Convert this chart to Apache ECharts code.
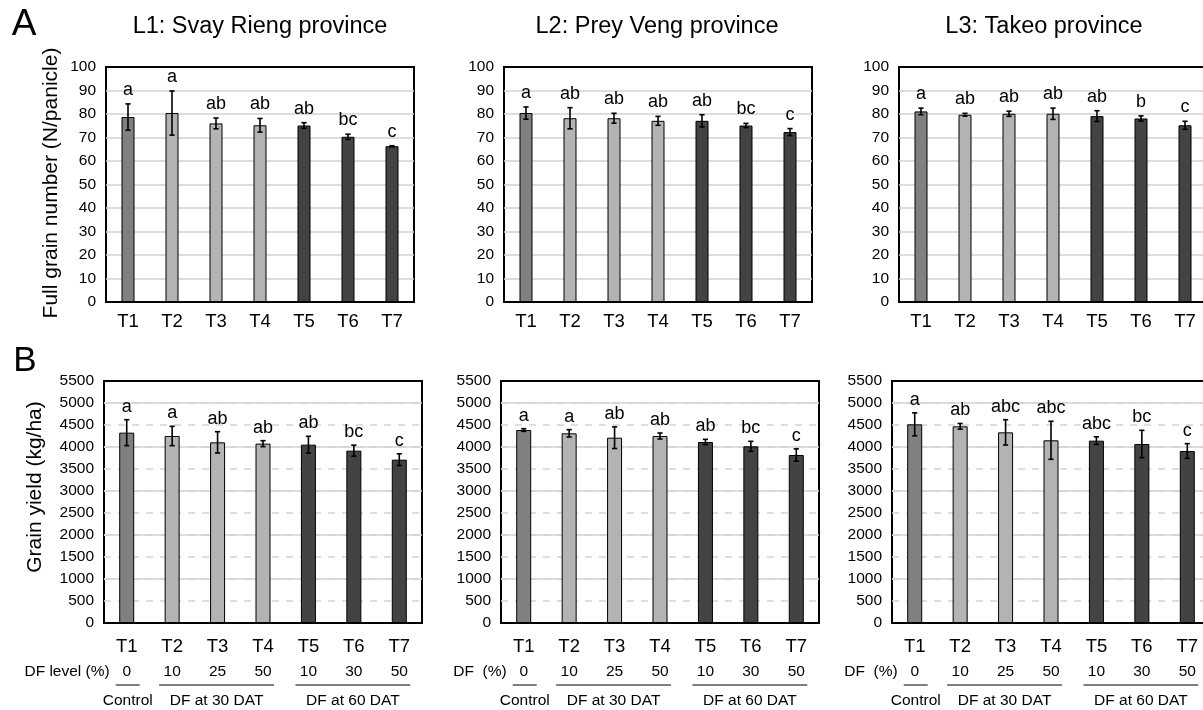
<!DOCTYPE html>
<html>
<head>
<meta charset="utf-8">
<script src="https://cdn.jsdelivr.net/npm/echarts@6/dist/echarts.min.js"></script>
<style>
  html, body { margin: 0; padding: 0; background: #fff; overflow: hidden; width: 1203px; height: 710px; }
  /* the canvas runs a little past the right edge so the last column is cut off there */
  #chart { width: 1216px; height: 710px; }
</style>
</head>
<body>
<div id="chart"></div>
<script>
// Treatments and their defoliation levels
const treatments = ['T1', 'T2', 'T3', 'T4', 'T5', 'T6', 'T7'];
const dfLevels = ['0', '10', '25', '50', '10', '30', '50'];
const groupNames = ['Control', 'DF at 30 DAT', 'DF at 60 DAT'];
const groupSpans = [[0, 0], [1, 3], [4, 6]];
const provinceTitles = ['L1: Svay Rieng province', 'L2: Prey Veng province', 'L3: Takeo province'];
const dfRowTitles = ['DF level (%)', 'DF  (%)', 'DF  (%)'];

// Full grain number (N/panicle): mean, SE, letters
const grainL1 = [78.7, 80.4, 76.0, 75.2, 75.1, 70.3, 66.3];
const grainErrL1 = [5.6, 9.4, 2.3, 2.9, 1.2, 1.1, 0.2];
const grainLetL1 = ['a', 'a', 'ab', 'ab', 'ab', 'bc', 'c'];
const grainL2 = [80.4, 78.2, 78.2, 77.1, 77.1, 75.1, 72.3];
const grainErrL2 = [2.6, 4.5, 2.1, 1.9, 2.6, 0.9, 1.5];
const grainLetL2 = ['a', 'ab', 'ab', 'ab', 'ab', 'bc', 'c'];
const grainL3 = [81.1, 79.7, 80.1, 80.1, 79.1, 78.1, 75.2];
const grainErrL3 = [1.4, 0.6, 1.1, 2.4, 2.3, 1.1, 1.7];
const grainLetL3 = ['a', 'ab', 'ab', 'ab', 'ab', 'b', 'c'];

// Grain yield (kg/ha): mean, SE, letters
const yieldL1 = [4326, 4250, 4106, 4076, 4053, 3917, 3712];
const yieldErrL1 = [295, 220, 242, 68, 190, 125, 133];
const yieldLetL1 = ['a', 'a', 'ab', 'ab', 'ab', 'bc', 'c'];
const yieldL2 = [4386, 4311, 4212, 4250, 4114, 4015, 3818];
const yieldErrL2 = [30, 83, 246, 68, 60, 114, 140];
const yieldLetL2 = ['a', 'a', 'ab', 'ab', 'ab', 'bc', 'c'];
const yieldL3 = [4515, 4470, 4333, 4152, 4144, 4068, 3909];
const yieldErrL3 = [261, 64, 288, 432, 87, 311, 167];
const yieldLetL3 = ['a', 'ab', 'abc', 'abc', 'abc', 'bc', 'c'];

const FONT = '"Liberation Sans", Arial, Helvetica, sans-serif';
const barColors = ['#808080', '#b3b3b3', '#b3b3b3', '#b3b3b3', '#434343', '#434343', '#434343'];

const panels = [
  { mean: grainL1, err: grainErrL1, letters: grainLetL1, row: 0 },
  { mean: grainL2, err: grainErrL2, letters: grainLetL2, row: 0 },
  { mean: grainL3, err: grainErrL3, letters: grainLetL3, row: 0 },
  { mean: yieldL1, err: yieldErrL1, letters: yieldLetL1, row: 1 },
  { mean: yieldL2, err: yieldErrL2, letters: yieldLetL2, row: 1 },
  { mean: yieldL3, err: yieldErrL3, letters: yieldLetL3, row: 1 }
];

// Plot-area rectangles (px)
const gridBoxes = [
  { left: 106, top: 67, width: 308, height: 235 },
  { left: 504, top: 67, width: 308, height: 235 },
  { left: 899, top: 67, width: 308, height: 235 },
  { left: 104, top: 381, width: 318, height: 242 },
  { left: 501, top: 381, width: 318, height: 242 },
  { left: 892, top: 381, width: 318, height: 242 }
];

const grid = [], xAxis = [], yAxis = [], series = [];

panels.forEach((p, k) => {
  const b = gridBoxes[k];
  grid.push({
    left: b.left, top: b.top, width: b.width, height: b.height,
    show: true, borderColor: '#000', borderWidth: 2, backgroundColor: '#fff',
    containLabel: false
  });
  const bottomRow = p.row === 1;
  xAxis.push({
    type: 'category', gridIndex: k, data: treatments,
    axisLine: { show: true, lineStyle: { color: '#000', width: 2 } },
    axisTick: { show: false },
    splitLine: { show: false },
    axisLabel: bottomRow ? {
      margin: 10.5,
      formatter: (v, i) => '{t|' + v + '}\n{d|' + dfLevels[i] + '}',
      rich: {
        t: { fontFamily: FONT, fontSize: 18.5, lineHeight: 26, color: '#000' },
        d: { fontFamily: FONT, fontSize: 15.5, lineHeight: 24, color: '#000' }
      }
    } : {
      margin: 9,
      fontFamily: FONT, fontSize: 18.5, lineHeight: 22, color: '#000'
    }
  });

  const yLabel = { fontFamily: FONT, fontSize: 15.5, color: '#000', margin: 10,
    formatter: v => String(v) };
  if (!bottomRow) {
    yAxis.push({
      type: 'value', gridIndex: k, min: 0, max: 100, interval: 10,
      axisLine: { show: false }, axisTick: { show: false },
      axisLabel: yLabel,
      splitLine: { show: true, showMinLine: false, showMaxLine: false,
        lineStyle: { color: '#d2d2d2', width: 1.6 } }
    });
  } else {
    // labelled axis with dashed half-step lines
    yAxis.push({
      type: 'value', gridIndex: k, min: 0, max: 5500, interval: 500,
      axisLine: { show: false }, axisTick: { show: false },
      axisLabel: yLabel,
      splitLine: { show: true, showMinLine: false, showMaxLine: false,
        lineStyle: { color: '#d6d6d6', width: 1.6, type: [7, 7] } }
    });
  }
  const yIdx = yAxis.length - 1;
  if (bottomRow) {
    // companion axis for the solid 1000-step lines
    yAxis.push({
      type: 'value', gridIndex: k, min: 0, max: 5500, interval: 1000, position: 'left',
      axisLine: { show: false }, axisTick: { show: false }, axisLabel: { show: false },
      splitLine: { show: true, showMinLine: false, showMaxLine: false,
        lineStyle: { color: '#d2d2d2', width: 1.6 } }
    });
  }

  series.push({
    type: 'bar', xAxisIndex: k, yAxisIndex: yIdx,
    barWidth: bottomRow ? 15 : 13,
    data: p.mean.map((v, i) => ({
      value: v,
      itemStyle: { color: barColors[i], borderColor: '#000', borderWidth: 1 }
    })),
    silent: true, animation: false, z: 2
  });

  const letters = p.letters;
  const gap = bottomRow ? 4 : 5;
  series.push({
    type: 'custom', xAxisIndex: k, yAxisIndex: yIdx,
    data: p.mean.map((v, i) => [i, v, p.err[i]]),
    silent: true, animation: false, z: 5,
    renderItem: (params, api) => {
      const i = api.value(0), m = api.value(1), e = api.value(2);
      const hi = api.coord([i, m + e]);
      const lo = api.coord([i, m - e]);
      const hw = 2.6;
      const ls = { stroke: '#000', lineWidth: 1.6 };
      return {
        type: 'group',
        children: [
          { type: 'line', shape: { x1: hi[0], y1: hi[1], x2: lo[0], y2: lo[1] }, style: ls },
          { type: 'line', shape: { x1: hi[0] - hw, y1: hi[1], x2: hi[0] + hw, y2: hi[1] }, style: ls },
          { type: 'line', shape: { x1: lo[0] - hw, y1: lo[1], x2: lo[0] + hw, y2: lo[1] }, style: ls },
          { type: 'text', x: hi[0], y: hi[1] - gap,
            style: { text: letters[params.dataIndex], fontFamily: FONT, fontSize: 18, fill: '#000',
              align: 'center', verticalAlign: 'bottom', textAlign: 'center', textVerticalAlign: 'bottom' } }
        ]
      };
    }
  });
});

const chart = echarts.init(document.getElementById('chart'), null, { renderer: 'canvas' });
chart.setOption({
  animation: false,
  backgroundColor: '#fff',
  grid, xAxis, yAxis, series
});

// Titles, panel letters, axis names and treatment-group annotations
function txt(x, y, text, size, opts) {
  return Object.assign({
    type: 'text', x, y, silent: true,
    style: Object.assign({
      text, fontFamily: FONT, fontSize: size, fill: '#000',
      align: 'center', verticalAlign: 'middle', textAlign: 'center', textVerticalAlign: 'middle'
    }, (opts && opts.style) || {})
  }, (opts && opts.el) || {});
}

const elements = [];
elements.push(txt(24, 25, 'A', 37));
elements.push(txt(25, 361, 'B', 35));
elements.push(txt(51, 183, 'Full grain number (N/panicle)', 21, { el: { rotation: Math.PI / 2 } }));
elements.push(txt(35, 487, 'Grain yield (kg/ha)', 21, { el: { rotation: Math.PI / 2 } }));

const titleX = [260, 657, 1044];
provinceTitles.forEach((t, k) => elements.push(txt(titleX[k], 27, t, 23.5)));

for (let k = 3; k < 6; k++) {
  const xs = treatments.map((t, i) => chart.convertToPixel({ xAxisIndex: k }, i));
  const axisY = gridBoxes[k].top + gridBoxes[k].height;
  const dfY = axisY + 49;
  elements.push(txt(xs[0] - 17, dfY, dfRowTitles[k - 3], 15.5,
    { style: { align: 'right', textAlign: 'right' } }));
  groupSpans.forEach((s, g) => {
    const x1 = g === 0 ? xs[s[0]] - 11 : xs[s[0]] - 13;
    const x2 = g === 0 ? xs[s[1]] + 13 : xs[s[1]] + 11;
    elements.push({
      type: 'line', silent: true,
      shape: { x1, y1: axisY + 62, x2, y2: axisY + 62 },
      style: { stroke: '#000', lineWidth: 1 }
    });
    elements.push(txt((x1 + x2) / 2, axisY + 78, groupNames[g], 15.5));
  });
}

chart.setOption({ graphic: { elements } });
</script>
</body>
</html>
